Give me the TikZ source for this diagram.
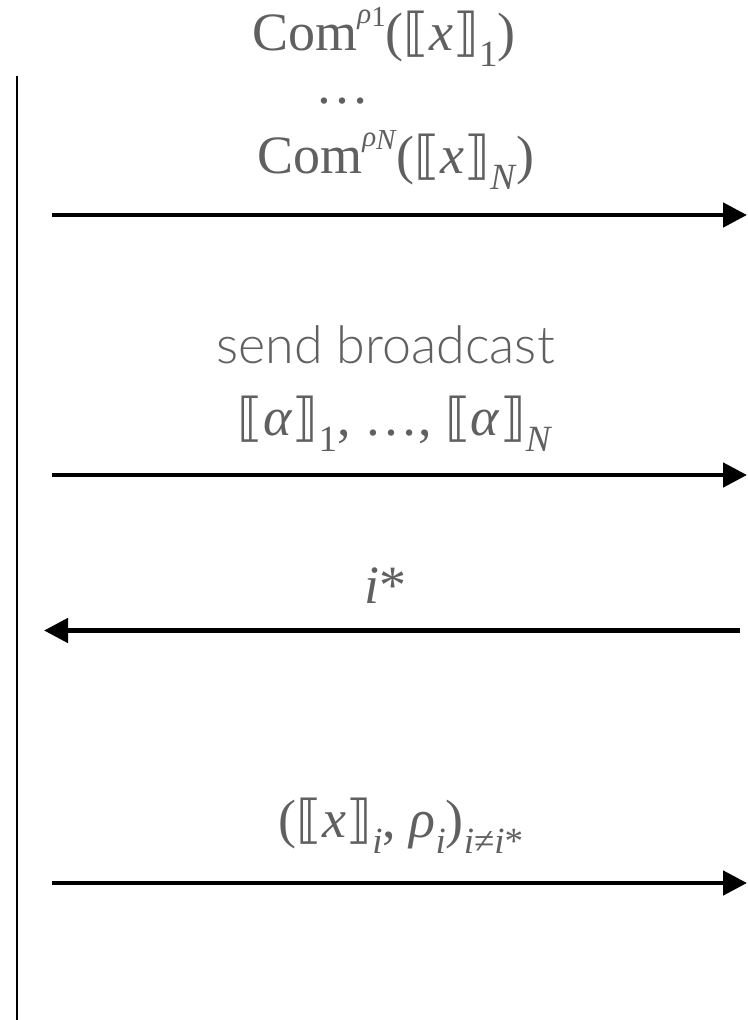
\documentclass[tikz,border=0pt]{standalone}
\usepackage{fontspec}
\usetikzlibrary{arrows.meta}
\setmainfont{Liberation Serif}
\IfFontExistsTF{Lato Light}{\newfontfamily\sbfont{Lato Light}}{\newfontfamily\sbfont{Lato}}
\newfontfamily\brfont{DejaVu Sans}
\definecolor{txt}{HTML}{606060}
\newcommand\lbr{{\brfont\fontsize{52}{56}\selectfont ⟦}}
\newcommand\rbr{{\brfont\fontsize{52}{56}\selectfont ⟧}}
\newcommand\dn[1]{\raisebox{-0.3em}{\fontsize{37}{37}\selectfont #1}}
\newcommand\supsub[2]{\raisebox{0.5em}{\fontsize{29}{29}\selectfont\textit{#1}\raisebox{-0.12em}{#2}}}
\newcommand\ita[1]{\textit{#1}}
\tikzset{
  lab/.style={text=txt, font=\fontsize{54}{60}\selectfont, inner sep=0pt, anchor=base},
  msg/.style={line width=4.8pt, -{Triangle[length=24pt,width=24pt]}},
  life/.style={line width=2pt}
}
\begin{document}
\begin{tikzpicture}[x=1pt,y=-1pt]
\useasboundingbox (0,0) rectangle (747,1020);
\coordinate (ltop) at (16.5,76);
\coordinate (lbot) at (16.5,1020);
\draw[life] (ltop) -- (lbot);
% labels
\node[lab] (t1) at (384,50) {Com\supsub{ρ}{1}(\lbr\ita{x}\rbr\dn{1})};
\node[lab] (dots) at (342,103) {…};
\node[lab] (t2) at (396,173) {Com\supsub{ρ}{\ita{N}}(\lbr\ita{x}\rbr\dn{\ita{N}})};
\node[lab, font=\sbfont\fontsize{52}{60}\selectfont] (send) at (385.5,363) {send broadcast};
\node[lab] (alpha) at (395,435) {\lbr\ita{α}\rbr\dn{1}, …, \lbr\ita{α}\rbr\dn{\ita{N}}};
\node[lab] (istar) at (385,603) {\ita{i}*};
\node[lab] (open) at (401,837) {(\lbr\ita{x}\rbr\dn{\ita{i}}, \ita{ρ}\dn{\ita{i}})\dn{\ita{i}≠\ita{i}*}};
% messages
\coordinate (m1s) at (52,215);   \coordinate (m1e) at (747,215);
\coordinate (m2s) at (52,475);   \coordinate (m2e) at (747,475);
\coordinate (m3s) at (740,630.5); \coordinate (m3e) at (44,630.5);
\coordinate (m4s) at (52,883);   \coordinate (m4e) at (747,883);
\draw[msg] (m1s) -- (m1e);
\draw[msg] (m2s) -- (m2e);
\draw[msg] (m3s) -- (m3e);
\draw[msg] (m4s) -- (m4e);
\end{tikzpicture}
\end{document}
